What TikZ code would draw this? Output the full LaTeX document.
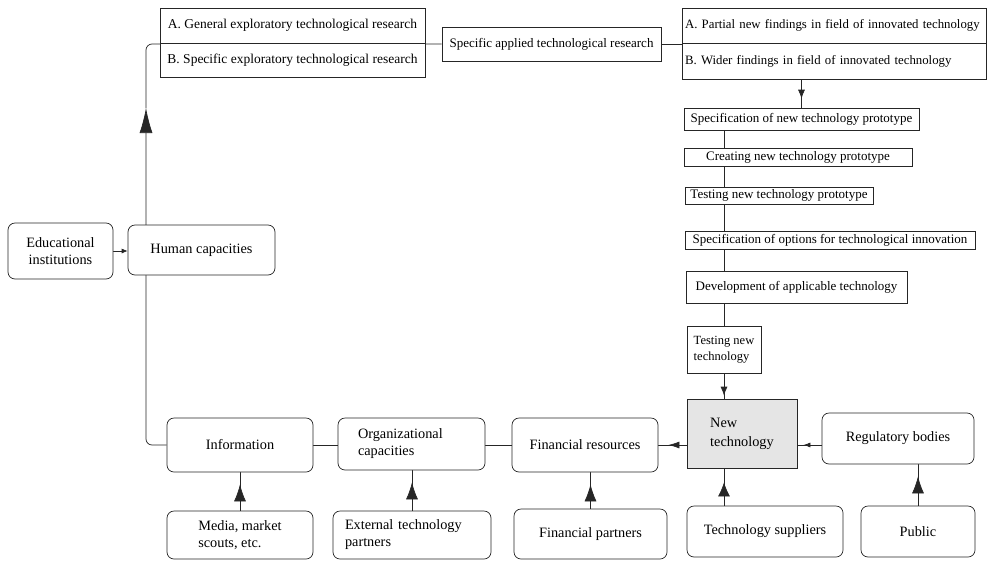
\documentclass[tikz,border=0pt]{standalone}
\usepackage{fontspec}
\setmainfont{Liberation Serif}
\usetikzlibrary{arrows.meta,decorations.markings,backgrounds}

\definecolor{techgray}{gray}{0.9}

\tikzset{
  box/.style={draw=black!85, fill=white, line width=0.7pt, inner sep=2pt,
    font=\fontsize{13}{15}\selectfont},
  roundbox/.style={box, rounded corners=7pt, font=\fontsize{14.3}{17}\selectfont},
  link/.style={draw=black!85, line width=0.7pt},
  tipat/.style n args={3}{postaction={decorate},
    decoration={markings, mark=at position #1 with {\arrow{Latex[length=#2,width=#3]}}}},
}

\begin{document}
\begin{tikzpicture}[x=1pt, y=-1pt]
    \useasboundingbox (0,0) rectangle (987,560);

    % research boxes on top
    \node (GenA) [box, minimum width=265pt, minimum height=35pt, font=\fontsize{13.5}{15}\selectfont] at (292.5,25.5) {A. General exploratory technological research};
    \node (SpecB) [box, minimum width=265pt, minimum height=34pt, font=\fontsize{13.5}{15}\selectfont] at (292.5,60) {B. Specific exploratory technological research};
    \node (Applied) [box, minimum width=219pt, minimum height=34pt] at (551.5,44) {Specific applied technological research};
    \node (PartA) [box, text width=298pt, align=left, inner xsep=3pt, minimum height=35pt, font=\fontsize{12.8}{15}\selectfont] at (834,25.5) {A. Partial new findings in field of innovated technology};
    \node (WideB) [box, text width=298pt, align=left, inner xsep=3pt, minimum height=36pt, font=\fontsize{12.8}{15}\selectfont] at (834,61) {B. Wider findings in field of innovated technology};

    % development chain
    \node (SpecProto) [box, minimum width=235pt, minimum height=22pt] at (801.5,119) {Specification of new technology prototype};
    \node (CreateProto) [box, minimum width=228pt, minimum height=18pt] at (798,157) {Creating new technology prototype};
    \node (TestProto) [box, minimum width=188pt, minimum height=17pt] at (779,195.5) {Testing new technology prototype};
    \node (SpecOpt) [box, minimum width=290pt, minimum height=18pt] at (830,240) {Specification of options for technological innovation};
    \node (Develop) [box, minimum width=221pt, minimum height=32pt] at (796.5,287) {Development of applicable technology};
    \node (TestNew) [box, minimum width=74pt, minimum height=47pt, align=left, font=\fontsize{12.5}{16}\selectfont] at (724,349.5) {Testing new\\technology};
    \node (NewTech) [box, fill=techgray, minimum width=110pt, minimum height=69pt, align=left, font=\fontsize{14.3}{19}\selectfont] at (742,433.5) {New\\technology};

    % resources and partners
    \node (RegBodies) [roundbox, minimum width=152pt, minimum height=51pt] at (898,438.5) {Regulatory bodies};
    \node (TechSupp) [roundbox, minimum width=156pt, minimum height=51pt] at (765,531.5) {Technology suppliers};
    \node (Public) [roundbox, minimum width=114pt, minimum height=51pt] at (918,531.5) {Public};
    \node (FinRes) [roundbox, minimum width=146pt, minimum height=54pt] at (585,445) {Financial resources};
    \node (FinPart) [roundbox, minimum width=153pt, minimum height=50pt] at (590.5,534) {Financial partners};
    \node (OrgCap) [roundbox, text width=107pt, inner xsep=20pt, minimum height=52pt, align=left] at (411.5,444) {Organizational\\capacities};
    \node (Info) [roundbox, minimum width=146pt, minimum height=54pt] at (240,445) {Information};
    \node (Media) [roundbox, minimum width=146pt, minimum height=48pt, align=left] at (240,535) {Media, market\\scouts, etc.};
    \node (ExtPart) [roundbox, text width=134pt, inner xsep=12pt, minimum height=48pt, align=left] at (412,535) {External technology\\partners};
    \node (EduInst) [roundbox, minimum width=105pt, minimum height=56pt, align=center] at (60.5,251) {Educational\\institutions};
    \node (HumanCap) [roundbox, minimum width=147pt, minimum height=50pt] at (201.5,250) {Human capacities};

    \coordinate (loopTip) at (146,108);

    \begin{scope}[on background layer]
      \draw[link, rounded corners=6pt, -{Latex[length=25pt,width=13pt]}] (Info.west) -| (loopTip);
      \draw[link, rounded corners=6pt] (loopTip) |- (Applied.west);
      \draw[link] (Applied.east) -- (Applied.east -| PartA.west);
      \draw[link, tipat={-9pt}{9pt}{7pt}] (WideB.south -| SpecProto) -- (SpecProto.north);
      \foreach \a/\b in {SpecProto/CreateProto, CreateProto/TestProto, TestProto/SpecOpt, SpecOpt/Develop, Develop/TestNew}
        \draw[link] (\a.south -| TestNew) -- (\b.north -| TestNew);
      \draw[link, tipat={-3pt}{9pt}{7pt}] (TestNew.south) -- (TestNew.south |- NewTech.north);

      \draw[link, tipat={-10pt}{11pt}{7pt}] (FinRes.east -| NewTech.west) -- (FinRes.east);
      \draw[link, tipat={-6pt}{7pt}{5pt}] (RegBodies.west |- FinRes.east) -- (NewTech.east |- FinRes.east);
      \draw[link] (Info.east) -- (Info.east -| OrgCap.west);
      \draw[link] (OrgCap.east |- FinRes.west) -- (FinRes.west);
      \draw[link, -{Latex[length=6pt,width=5pt]}] (EduInst.east) -- (EduInst.east -| HumanCap.west);

      \foreach \a/\b in {Media/Info, ExtPart/OrgCap, FinPart/FinRes, Public/RegBodies}
        \draw[link, tipat={-12pt}{17pt}{12pt}] (\a.north) -- (\a.north |- \b.south);
      \draw[link, tipat={-14pt}{14pt}{12pt}] (TechSupp.north -| TestNew) -- (NewTech.south -| TestNew);
    \end{scope}

  \end{tikzpicture}
\end{document}
